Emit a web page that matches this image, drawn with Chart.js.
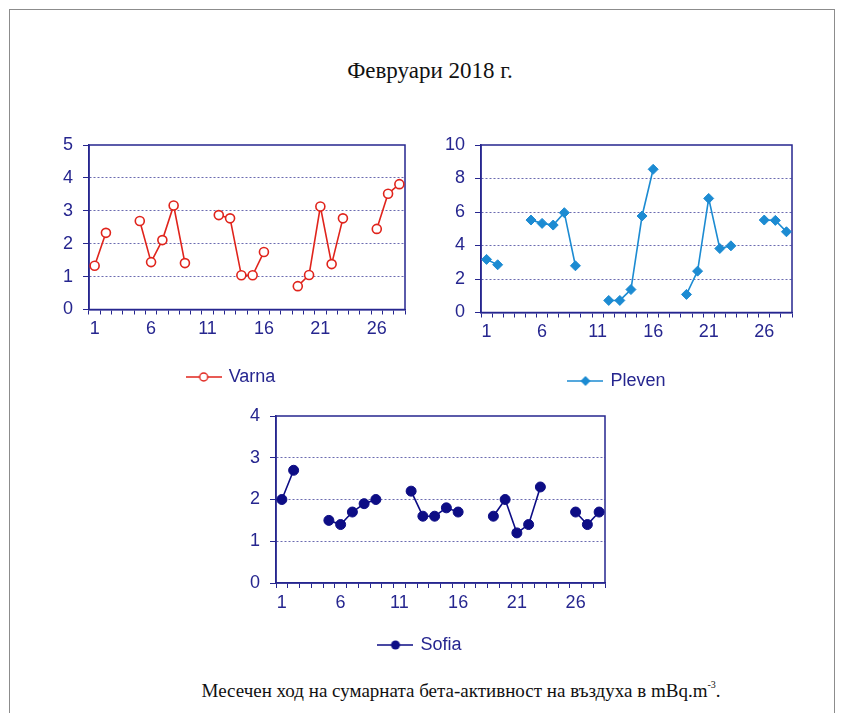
<!DOCTYPE html>
<html>
<head>
<meta charset="utf-8">
<script src="https://cdn.jsdelivr.net/npm/chart.js@4/dist/chart.umd.min.js"></script>
<style>
  html, body { margin: 0; padding: 0; background: #fff; }
  body { width: 847px; height: 713px; position: relative; overflow: hidden; }
  .frame { position: absolute; left: 9px; top: 9px; width: 826px; height: 720px; border: 1px solid #8c8c8c; box-sizing: border-box; }
  .title { position: absolute; left: 280px; width: 300px; top: 58px; text-align: center;
           font-family: "Liberation Serif", "Times New Roman", serif; font-size: 23px; line-height: 26px; color: #111; }
  .caption { position: absolute; left: 111px; width: 700px; top: 676px; text-align: center;
             font-family: "Liberation Serif", "Times New Roman", serif; font-size: 19px; line-height: 22px; color: #111; }
  .caption sup { font-size: 10px; position: relative; top: -2px; }
  canvas { position: absolute; }
</style>
</head>
<body>
<div class="frame"></div>
<div class="title">Февруари 2018 г.</div>
<canvas id="varna"></canvas>
<canvas id="pleven"></canvas>
<canvas id="sofia"></canvas>
<div class="caption">Месечен ход на сумарната бета-активност на въздуха в mBq.m<sup>-3</sup>.</div>
<script>
// Days of February 2018 (category axis)
const days = ['1','2','3','4','5','6','7','8','9','10','11','12','13','14','15','16','17','18','19','20','21','22','23','24','25','26','27','28'];

// Daily total beta activity, mBq/m3 (no measurements on weekends)
const varnaValues = [1.33, 2.33, null, null, 2.69, 1.44, 2.11, 3.16, 1.41, null, null, 2.87, 2.77, 1.04, 1.04, 1.75, null, null, 0.71, 1.05, 3.13, 1.38, 2.77, null, null, 2.45, 3.52, 3.81];
const plevenValues = [3.17, 2.85, null, null, 5.52, 5.32, 5.22, 5.96, 2.79, null, null, 0.72, 0.72, 1.37, 5.76, 8.55, null, null, 1.08, 2.47, 6.81, 3.82, 3.98, null, null, 5.52, 5.50, 4.82];
const sofiaValues = [2.0, 2.7, null, null, 1.5, 1.4, 1.7, 1.9, 2.0, null, null, 2.2, 1.6, 1.6, 1.8, 1.7, null, null, 1.6, 2.0, 1.2, 1.4, 2.3, null, null, 1.7, 1.4, 1.7];

// Y axis ranges
const varnaAxis = { min: 0, max: 5, step: 1 };
const plevenAxis = { min: 0, max: 10, step: 1, labelEvery: 2 };
const sofiaAxis = { min: 0, max: 4, step: 1 };

const NAVY = '#26268f';
const GRID = '#6b6bb0';
const FONT = '"Liberation Sans", Arial, sans-serif';

// Small swatch for the legend: a line with the series marker on it
function legendSwatch(color, marker) {
  const c = document.createElement('canvas');
  c.width = 36; c.height = 14;
  const g = c.getContext('2d');
  g.strokeStyle = color; g.lineWidth = 1.6;
  g.beginPath(); g.moveTo(0, 7); g.lineTo(36, 7); g.stroke();
  g.beginPath();
  if (marker === 'open') {
    g.arc(18, 7, 4, 0, Math.PI * 2);
    g.fillStyle = '#fff'; g.fill(); g.lineWidth = 1.4; g.stroke();
  } else if (marker === 'diamond') {
    g.moveTo(18, 2); g.lineTo(23, 7); g.lineTo(18, 12); g.lineTo(13, 7); g.closePath();
    g.fillStyle = color; g.fill();
  } else {
    g.arc(18, 7, 4.5, 0, Math.PI * 2);
    g.fillStyle = color; g.fill();
  }
  return c;
}

// Frame around the plotting area
const plotFrame = {
  id: 'plotFrame',
  beforeDatasetsDraw(chart) {
    const a = chart.chartArea, g = chart.ctx;
    g.save();
    g.strokeStyle = NAVY; g.lineWidth = 1.5;
    g.strokeRect(a.left, a.top, a.right - a.left, a.bottom - a.top);
    g.restore();
  }
};

function makeChart(id, cfg) {
  const canvas = document.getElementById(id);
  const box = cfg.box, area = cfg.area, padLeft = cfg.padLeft;
  canvas.style.left = box.left + 'px';
  canvas.style.top = box.top + 'px';
  canvas.width = box.right - box.left;
  canvas.height = box.bottom - box.top;
  const ax = cfg.axis;
  return new Chart(canvas, {
    type: 'line',
    data: {
      labels: days,
      datasets: [{
        label: cfg.label,
        data: cfg.values,
        borderColor: cfg.color,
        borderWidth: 1.6,
        spanGaps: false,
        clip: false,
        pointStyle: cfg.pointStyle,
        pointRadius: cfg.pointRadius,
        pointHoverRadius: cfg.pointRadius,
        pointBackgroundColor: cfg.pointFill,
        pointBorderColor: cfg.color,
        pointBorderWidth: cfg.pointBorderWidth,
        tension: 0
      }]
    },
    options: {
      responsive: false,
      animation: false,
      devicePixelRatio: 1,
      layout: { padding: { left: padLeft, top: area.top - box.top, right: box.right - area.right, bottom: 0 } },
      plugins: {
        tooltip: { enabled: false },
        legend: {
          position: 'bottom',
          labels: {
            usePointStyle: true,
            pointStyle: cfg.swatch,
            pointStyleWidth: 32,
            color: NAVY,
            font: { family: FONT, size: 18 },
            padding: 6
          }
        }
      },
      scales: {
        x: {
          type: 'category',
          offset: true,
          afterFit(scale) {
            const legendH = scale.chart.legend ? scale.chart.legend.height : 0;
            scale.height = (box.bottom - area.bottom) - legendH;
          },
          grid: { offset: true, drawOnChartArea: false, drawTicks: true, tickLength: 5, color: NAVY, lineWidth: 1 },
          border: { display: true, color: NAVY, width: 1.5 },
          ticks: {
            autoSkip: false, maxRotation: 0, color: NAVY, padding: 4,
            font: { family: FONT, size: 18 },
            callback: (v, i) => (i % 5 === 0 ? days[i] : '')
          }
        },
        y: {
          min: ax.min, max: ax.max,
          afterFit(scale) { scale.width = area.left - box.left - padLeft; },
          grid: {
            drawTicks: true, tickLength: 6,
            color: (ctx) => {
              const v = ctx.tick ? ctx.tick.value : 0;
              if (v === ax.min || v === ax.max) return 'rgba(0,0,0,0)';
              if (ax.labelEvery && v % ax.labelEvery !== 0) return 'rgba(0,0,0,0)';
              return GRID;
            },
            tickColor: NAVY,
            lineWidth: 1
          },
          border: { display: true, color: NAVY, width: 1.5, dash: [2, 2] },
          ticks: {
            stepSize: ax.step, color: NAVY, padding: 10,
            font: { family: FONT, size: 18 },
            callback: (v) => (ax.labelEvery && v % ax.labelEvery !== 0 ? '' : String(v))
          }
        }
      }
    },
    plugins: [plotFrame]
  });
}

makeChart('varna', {
  label: 'Varna', values: varnaValues, axis: varnaAxis,
  color: '#e0241c', pointStyle: 'circle', pointRadius: 4.5, pointFill: '#ffffff', pointBorderWidth: 1.6,
  swatch: legendSwatch('#e0241c', 'open'),
  box: { left: 40, top: 120, right: 422, bottom: 396 }, padLeft: 18,
  area: { left: 89, top: 145, right: 405, bottom: 309.5 }
});

makeChart('pleven', {
  label: 'Pleven', values: plevenValues, axis: plevenAxis,
  color: '#1c8bd2', pointStyle: 'rectRot', pointRadius: 5, pointFill: '#1c8bd2', pointBorderWidth: 1,
  swatch: legendSwatch('#1c8bd2', 'diamond'),
  box: { left: 430, top: 120, right: 804, bottom: 400 }, padLeft: 13,
  area: { left: 481, top: 145, right: 792, bottom: 312.5 }
});

makeChart('sofia', {
  label: 'Sofia', values: sofiaValues, axis: sofiaAxis,
  color: '#0d0d85', pointStyle: 'circle', pointRadius: 5, pointFill: '#0d0d85', pointBorderWidth: 1,
  swatch: legendSwatch('#0d0d85', 'filled'),
  box: { left: 230, top: 395, right: 614, bottom: 664 }, padLeft: 6,
  area: { left: 276, top: 416, right: 605, bottom: 583 }
});
</script>
</body>
</html>
